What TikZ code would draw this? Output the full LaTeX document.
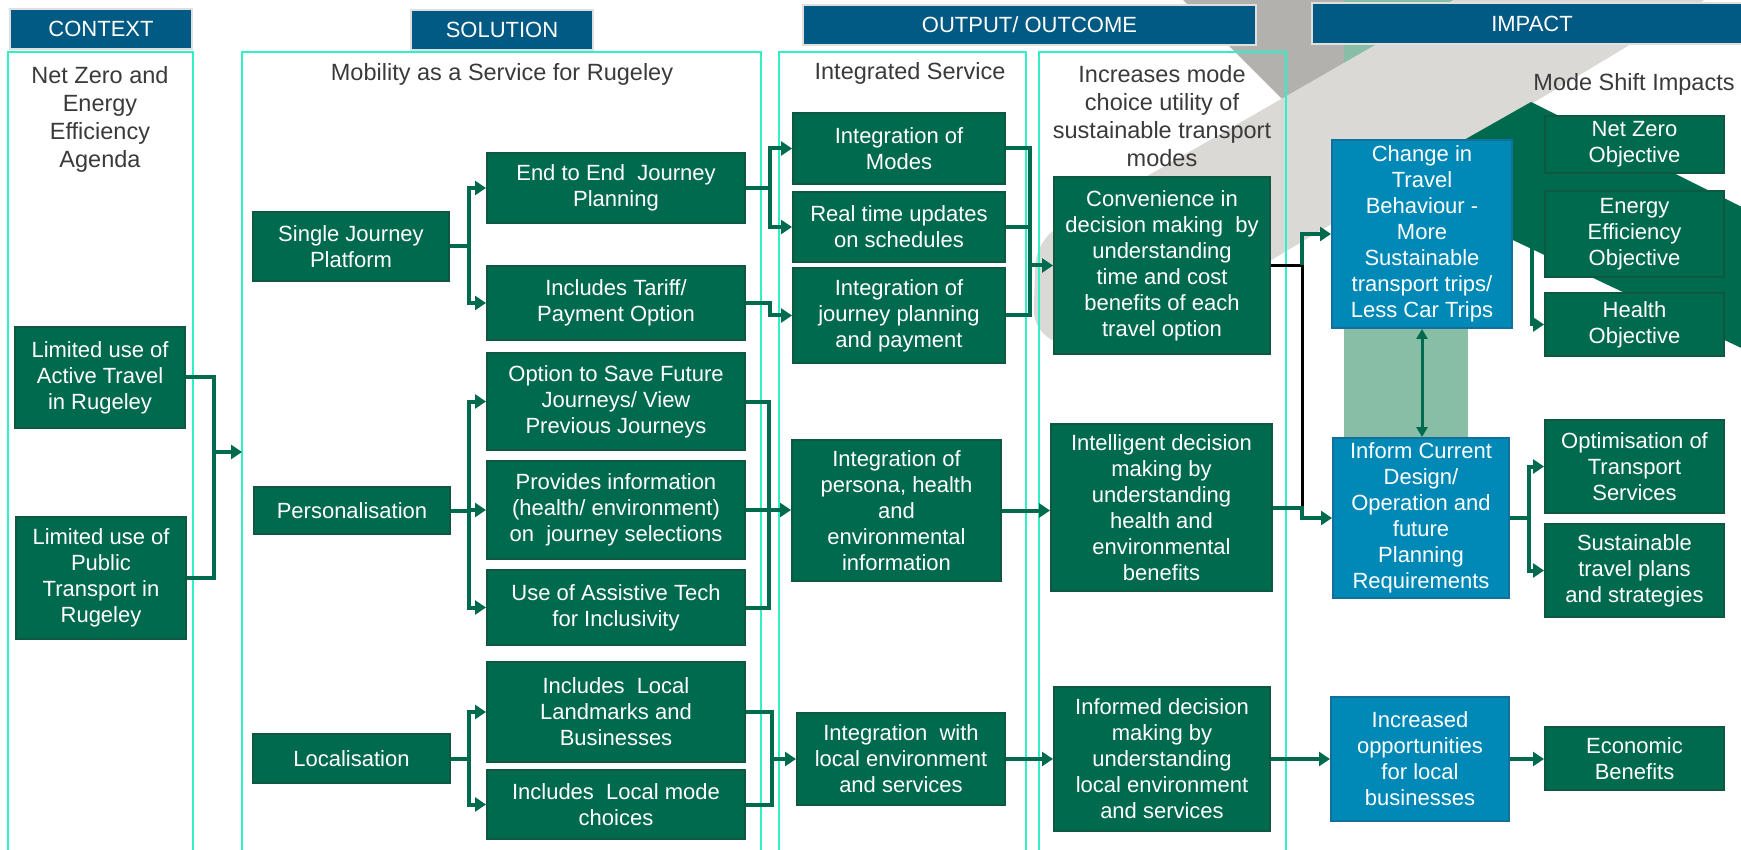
\documentclass[tikz,border=0pt]{standalone}
\usepackage{fontspec}
\setmainfont{Liberation Sans}
\usepackage{xcolor}
\usetikzlibrary{arrows.meta, positioning, calc}

\definecolor{mgreen}{HTML}{006A4E}
\definecolor{mgreenline}{HTML}{0E5842}
\definecolor{hdrblue}{HTML}{005A84}
\definecolor{impblue}{HTML}{0089B7}
\definecolor{impline}{HTML}{13709A}
\definecolor{frameaqua}{HTML}{30F0C8}
\definecolor{txtgrey}{HTML}{3A3A3A}
\definecolor{bggrey}{HTML}{B2B1AD}
\definecolor{bglight}{HTML}{DAD9D6}
\definecolor{bgmint}{HTML}{87BEA5}

\begin{document}
\begin{tikzpicture}[x=1pt, y=-1pt,
    boxfont/.style={font=\fontsize{22}{26}\selectfont},
    gbox/.style={boxfont, fill=mgreen, draw=mgreenline, line width=2pt, text=white, align=center, inner sep=0pt},
    bbox/.style={boxfont, fill=impblue, draw=impline, line width=2pt, text=white, align=center, inner sep=0pt},
    hdr/.style={boxfont, fill=hdrblue, draw=gray!25, line width=2pt, text=white, inner sep=0pt},
    coltitle/.style={font=\fontsize{23.5}{28}\selectfont, text=txtgrey, align=center},
    colframe/.style={draw=frameaqua, line width=1.5pt},
    link/.style={draw=mgreen, line width=4pt},
    arr/.style={link, -{Triangle[length=11pt, width=14pt]}}
  ]
    \useasboundingbox[fill=white] (0,0) rectangle (1741,850);
    %\draw[step=100, gray, very thin] (0,0) grid (1741,850);

    % background shapes
    \fill[bggrey] (1178,-5) -- (1292,109) -- (1500,-5) -- cycle;
    \fill[bgmint] (1344,-5) rectangle (1468,440);
    \fill[bglight, rounded corners=25pt] (1523,-40) -- (1036,240) -- (1033,335) -- (1110,357) -- (1771,-40) -- cycle;
    \fill[mgreen] (1390,182) -- (1531,102) -- (1790,231) -- (1790,371) -- cycle;

    \draw[colframe] (8,860) |- (193,52) -- (193,860);
    \draw[colframe] (242,860) |- (761,52) -- (761,860);
    \draw[colframe] (779,860) |- (1026,52) -- (1026,860);
    \draw[colframe] (1039,860) |- (1286,52) -- (1286,860);

    \node[hdr, minimum width=182pt, minimum height=40pt] (hctx) at (101,29) {CONTEXT};
    \node[hdr, minimum width=182pt, minimum height=40pt] (hsol) at (502,30) {SOLUTION};
    \node[hdr, minimum width=453pt, minimum height=40pt] (hout) at (1029.5,25) {OUTPUT/ OUTCOME};
    \node[hdr, minimum width=440pt, minimum height=41pt] (himp) at (1532,23.5) {IMPACT};

    \node[coltitle] (tctx) at (100,119) {Net Zero and\\Energy\\Efficiency\\Agenda};
    \node[coltitle] (tsol) at (502,74) {Mobility as a Service for Rugeley};
    \node[coltitle] (tint) at (910,73) {Integrated Service};
    \node[coltitle] (tinc) at (1162,116) {Increases mode\\choice utility of\\sustainable transport\\modes};
    \node[coltitle] (timp) at (1634,84) {Mode Shift Impacts};

    \node[gbox, minimum width=170pt, minimum height=101pt] (act) at (100,377.5) {Limited use of\\Active Travel\\in Rugeley};
    \node[gbox, minimum width=170pt, minimum height=122pt] (pub) at (101,578) {Limited use of\\Public\\Transport in\\Rugeley};

    \node[gbox, minimum width=196pt, minimum height=69pt] (sjp) at (351,246.5) {Single Journey\\Platform};
    \node[gbox, minimum width=196pt, minimum height=47pt] (pers) at (352,510.5) {Personalisation};
    \node[gbox, minimum width=197pt, minimum height=49pt] (loc) at (351.5,758.5) {Localisation};

    \node[gbox, minimum width=258pt, minimum height=70pt] (e2e) at (616,188) {End to End\ \ Journey\\Planning};
    \node[gbox, minimum width=258pt, minimum height=74pt] (tariff) at (616,303) {Includes Tariff/\\Payment Option};
    \node[gbox, minimum width=258pt, minimum height=97pt] (save) at (616,401.5) {Option to Save Future\\Journeys/ View\\Previous Journeys};
    \node[gbox, minimum width=258pt, minimum height=98pt] (info) at (616,510) {Provides information\\(health/ environment)\\on\ \ journey selections};
    \node[gbox, minimum width=258pt, minimum height=75pt] (assist) at (616,607.5) {Use of Assistive Tech\\for Inclusivity};
    \node[gbox, minimum width=258pt, minimum height=100pt] (landm) at (616,712) {Includes\ \ Local\\Landmarks and\\Businesses};
    \node[gbox, minimum width=258pt, minimum height=69pt] (lmode) at (616,804.5) {Includes\ \ Local mode\\choices};

    \node[gbox, minimum width=212pt, minimum height=71pt] (modes) at (899,148.5) {Integration of\\Modes};
    \node[gbox, minimum width=212pt, minimum height=70pt] (rtu) at (899,227) {Real time updates\\on schedules};
    \node[gbox, minimum width=212pt, minimum height=95pt] (ijp) at (899,315.5) {Integration of\\journey planning\\and payment};
    \node[gbox, minimum width=209pt, minimum height=141pt] (iph) at (896.5,510.5) {Integration of\\persona, health\\and\\environmental\\information};
    \node[gbox, minimum width=208pt, minimum height=92pt] (iloc) at (901,759) {Integration\ \ with\\local environment\\and services};

    \node[gbox, minimum width=216pt, minimum height=177pt] (conv) at (1162,265.5) {Convenience in\\decision making\ \ by\\understanding\\time and cost\\benefits of each\\travel option};
    \node[gbox, minimum width=221pt, minimum height=167pt] (intel) at (1161.5,507.5) {Intelligent decision\\making by\\understanding\\health and\\environmental\\benefits};
    \node[gbox, minimum width=216pt, minimum height=144pt] (infd) at (1162,759) {Informed decision\\making by\\understanding\\local environment\\and services};

    \node[bbox, minimum width=180pt, minimum height=188pt] (chg) at (1422,234) {Change in\\Travel\\Behaviour -\\More\\Sustainable\\transport trips/\\Less Car Trips};
    \node[bbox, minimum width=176pt, minimum height=160pt] (inform) at (1421,518) {Inform Current\\Design/\\Operation and\\future\\Planning\\Requirements};
    \node[bbox, minimum width=178pt, minimum height=124pt] (incr) at (1420,759) {Increased\\opportunities\\for local\\businesses};

    \node[gbox, minimum width=179pt, minimum height=57pt] (nz) at (1634.5,144.5) {Net Zero\\Objective};
    \node[gbox, minimum width=179pt, minimum height=86pt] (ee) at (1634.5,234) {Energy\\Efficiency\\Objective};
    \node[gbox, minimum width=179pt, minimum height=63pt] (hlth) at (1634.5,324.5) {Health\\Objective};
    \node[gbox, minimum width=179pt, minimum height=93pt] (opt) at (1634.5,466.5) {Optimisation of\\Transport\\Services};
    \node[gbox, minimum width=179pt, minimum height=93pt] (stp) at (1634.5,570.5) {Sustainable\\travel plans\\and strategies};
    \node[gbox, minimum width=179pt, minimum height=63pt] (eco) at (1634.5,758.5) {Economic\\Benefits};

    \coordinate (jctx) at (214,452);
    \coordinate (solin) at (242,452);
    \draw[link] (act.east) -| (jctx);
    \draw[link] (pub.east) -| (jctx);
    \draw[arr] (jctx) -- (solin);

    \draw[arr] (sjp.east) -- ++(19,0) |- (e2e.west);
    \draw[arr] (sjp.east) -- ++(19,0) |- (tariff.west);
    \draw[arr] (pers.east) -- ++(18,0) |- (save.west);
    \draw[arr] (pers.east) -- ++(18,0) |- (info.west);
    \draw[arr] (pers.east) -- ++(18,0) |- (assist.west);
    \draw[arr] (loc.east) -- ++(18,0) |- (landm.west);
    \draw[arr] (loc.east) -- ++(18,0) |- (lmode.west);

    \draw[arr] (e2e.east) -- ++(24,0) |- (modes.west);
    \draw[arr] (e2e.east) -- ++(24,0) |- (rtu.west);
    \draw[arr] (tariff.east) -- ++(24,0) |- (ijp.west);

    \coordinate (jper) at (769,510);
    \draw[link] (save.east) -| (jper);
    \draw[link] (assist.east) -| (jper);
    \draw[arr] (info.east) -- (info.east -| iph.west);

    \coordinate (jloc) at (772,759);
    \draw[link] (landm.east) -| (jloc);
    \draw[link] (lmode.east) -| (jloc);
    \draw[arr] (jloc) -- (iloc.west);

    \coordinate (jint) at (1030,265.5);
    \draw[link] (modes.east) -| (jint);
    \draw[link] (rtu.east) -| (jint);
    \draw[link] (ijp.east) -| (jint);
    \draw[arr] (jint) -- (conv.west);

    \draw[arr] (iph.east) -- (iph.east -| intel.west);
    \draw[arr] (iloc.east) -- (infd.west);

    \coordinate (jimp) at (1302,507.5);
    \draw[link, draw=black, line width=3pt] (conv.east) -| (jimp);
    \draw[arr] (conv.east -| jimp) |- (chg.west);
    \draw[arr] (intel.east) -- (jimp) |- (inform.west);
    \draw[arr] (infd.east) -- (incr.west);

    \draw[link, line width=3pt, {Triangle[length=10pt, width=11pt]}-{Triangle[length=10pt, width=11pt]}] (chg.south) -- (chg.south |- inform.north);

    \draw[arr] (chg.east) -- ++(19,0) |- (nz.west);
    \draw[arr] (chg.east) -- ++(19,0) |- (ee.west);
    \draw[arr] (chg.east) -- ++(19,0) |- (hlth.west);
    \draw[arr] (inform.east) -- ++(19,0) |- (opt.west);
    \draw[arr] (inform.east) -- ++(19,0) |- (stp.west);
    \draw[arr] (incr.east) -- (incr.east -| eco.west);
\end{tikzpicture}
\end{document}
